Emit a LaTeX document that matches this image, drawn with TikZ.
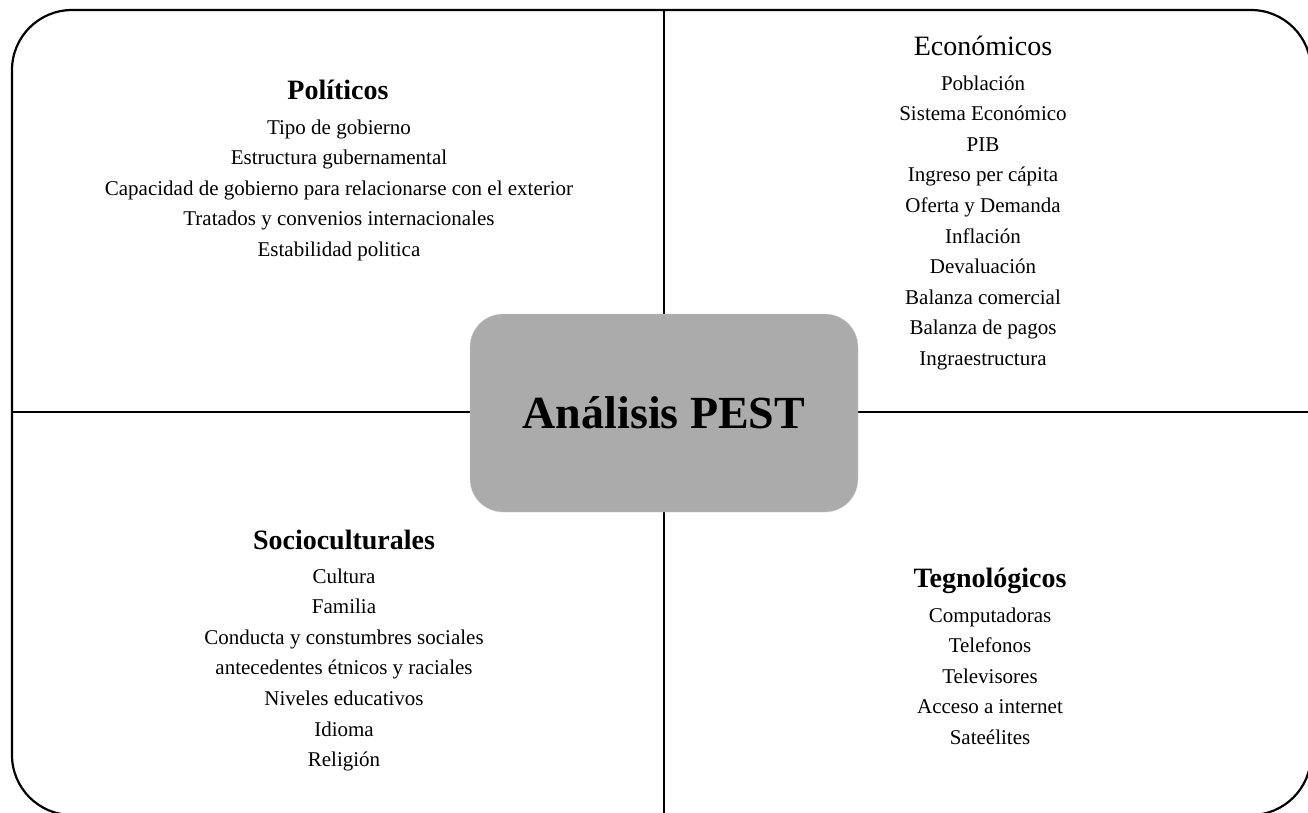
\documentclass[tikz,border=0pt]{standalone}
\usepackage{fontspec}
\setmainfont{Liberation Serif}
\usepackage{xcolor}
\definecolor{boxgray}{HTML}{ABABAB}
\tikzset{
  head/.style={font=\fontsize{28}{32}\selectfont\bfseries, anchor=base},
  % multi-line node: base is the baseline of its last line
  list/.style={font=\fontsize{21}{30.6}\selectfont, align=center, anchor=base},
}

\begin{document}
\begin{tikzpicture}[x=1pt, y=-1pt]
    \useasboundingbox (0, 0) rectangle (1308, 812);
    \clip (0, 0) rectangle (1308, 812);
    \draw [line width=2.2pt, rounded corners=60pt] (12, 10) rectangle (1311, 815);
    \path (664, 10) coordinate (top) (664, 815) coordinate (bot);
    \path (12, 412) coordinate (lft) (1311, 412) coordinate (rgt);
    \draw [line width=2.2pt] (top) -- (bot);
    \draw [line width=2.2pt] (lft) -- (rgt);
    \path (664, 413) node [fill=boxgray, draw=gray!35, rounded corners=33pt,
        minimum width=388pt, minimum height=198pt,
        font=\fontsize{46}{50}\selectfont\bfseries] (pest) {Análisis PEST};
    \path (338, 99) node [head] (pol) {Políticos};
    \path (339, 256.4) node [list] (polist) {Tipo de gobierno\\Estructura gubernamental\\
        Capacidad de gobierno para relacionarse con el exterior\\
        Tratados y convenios internacionales\\Estabilidad politica};
    \path (983, 55) node [head, font=\fontsize{28}{32}\selectfont] (eco) {Económicos};
    \path (983, 365.4) node [list] (ecolist) {Población\\Sistema Económico\\PIB\\
        Ingreso per cápita\\Oferta y Demanda\\Inflación\\Devaluación\\
        Balanza comercial\\Balanza de pagos\\Ingraestructura};
    \path (344, 549) node [head] (soc) {Socioculturales};
    \path (344, 766.6) node [list] (soclist) {Cultura\\Familia\\
        Conducta y constumbres sociales\\antecedentes étnicos y raciales\\
        Niveles educativos\\Idioma\\Religión};
    \path (990, 587) node [head] (tec) {Tegnológicos};
    \path (990, 744.4) node [list] (teclist) {Computadoras\\Telefonos\\Televisores\\
        Acceso a internet\\Sateélites};
\end{tikzpicture}
\end{document}
